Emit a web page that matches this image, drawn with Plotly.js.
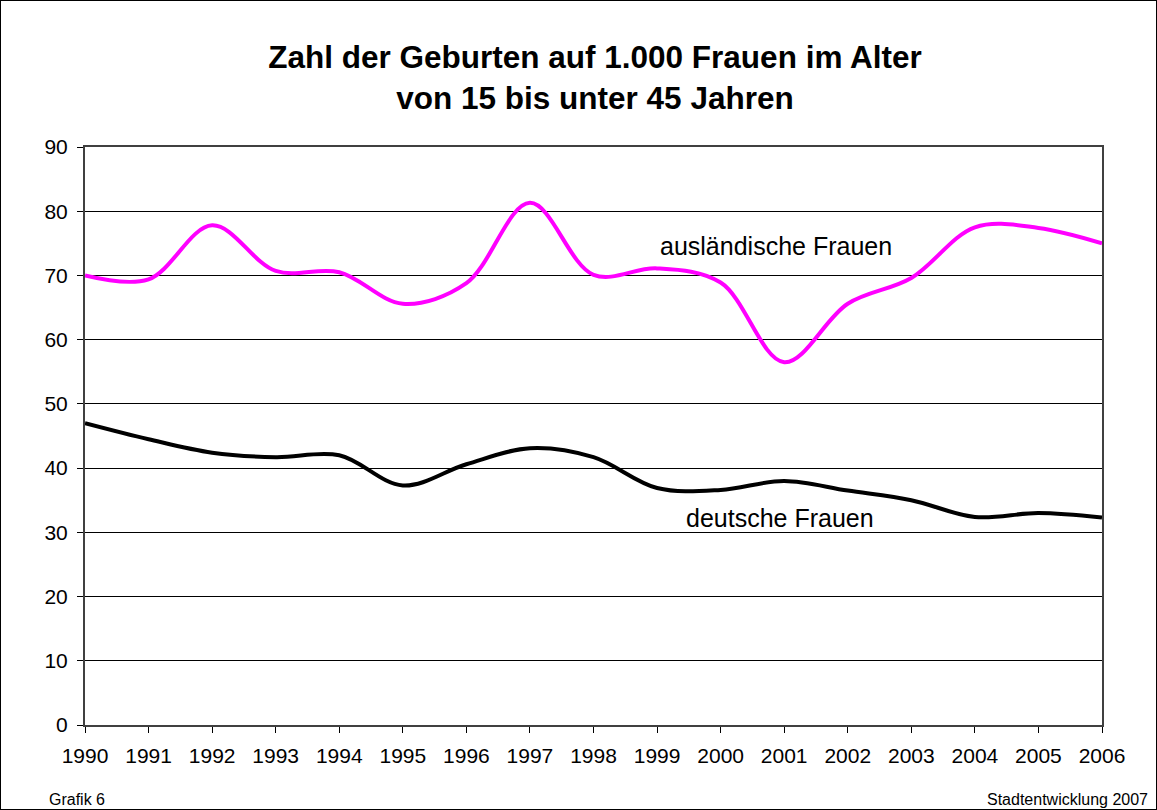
<!DOCTYPE html>
<html>
<head>
<meta charset="utf-8">
<script src="https://cdn.plot.ly/plotly-3.0.1.min.js"></script>
<style>
  html, body { margin: 0; padding: 0; background: #fff; }
  #wrap { position: relative; width: 1157px; height: 810px; }
  #chart { width: 1157px; height: 810px; }
  #frame { position: absolute; left: 0; top: 0; width: 1157px; height: 810px; box-sizing: border-box; border: 1px solid #000; pointer-events: none; }
</style>
</head>
<body>
<div id="wrap">
  <div id="chart"></div>
  <div id="frame"></div>
</div>
<script>
const years = [1990, 1991, 1992, 1993, 1994, 1995, 1996, 1997, 1998, 1999, 2000, 2001, 2002, 2003, 2004, 2005, 2006];
const auslaendisch = [70.0, 69.4, 77.8, 70.7, 70.5, 65.6, 68.8, 81.3, 70.1, 71.1, 68.9, 56.5, 65.6, 69.6, 77.5, 77.4, 75.0];
const deutsch = [47.0, 44.5, 42.4, 41.7, 42.0, 37.3, 40.6, 43.1, 41.7, 36.9, 36.6, 38.0, 36.5, 35.0, 32.4, 33.0, 32.3];
const yTicks = [0, 10, 20, 30, 40, 50, 60, 70, 80, 90];

const font = "Liberation Sans, Arial, sans-serif";

const traces = [
  { x: years, y: auslaendisch, type: 'scatter', mode: 'lines', name: 'ausländische Frauen',
    line: { color: '#FF00FF', width: 4, shape: 'spline', smoothing: 1 }, hoverinfo: 'x+y' },
  { x: years, y: deutsch, type: 'scatter', mode: 'lines', name: 'deutsche Frauen',
    line: { color: '#000000', width: 4, shape: 'spline', smoothing: 1 }, hoverinfo: 'x+y' }
];

const L = 85, R = 55, T = 147, B = 85, W = 1157, H = 810;
function px2paperX(px) { return (px - L) / (W - L - R); }
function px2paperY(py) { return (H - B - py) / (H - T - B); }

const layout = {
  width: W, height: H,
  margin: { l: L, r: R, t: T, b: B },
  paper_bgcolor: '#ffffff', plot_bgcolor: '#ffffff',
  showlegend: false,
  title: {
    text: '<b>Zahl der Geburten auf 1.000 Frauen im Alter<br>von 15 bis unter 45 Jahren</b>',
    font: { family: font, size: 31.5, color: '#000' },
    x: 595 / W, xanchor: 'center', y: 1 - 68 / H, yanchor: 'middle'
  },
  xaxis: {
    range: [1990, 2006], tickmode: 'array', tickvals: years, ticktext: years.map(String),
    ticks: 'outside', ticklen: 6, tickcolor: '#000', tickwidth: 1, ticklabelstandoff: 5,
    showgrid: false, zeroline: false,
    showline: true, linecolor: '#404040', linewidth: 2, mirror: true,
    tickfont: { family: font, size: 21, color: '#000' }
  },
  yaxis: {
    range: [0, 90], tickmode: 'array', tickvals: yTicks,
    ticks: 'outside', ticklen: 6, tickcolor: '#000', tickwidth: 1, ticklabelstandoff: 5,
    showgrid: true, gridcolor: '#000', gridwidth: 1, zeroline: false,
    showline: true, linecolor: '#404040', linewidth: 2, mirror: true,
    tickfont: { family: font, size: 21, color: '#000' }
  },
  annotations: [
    { text: 'ausländische Frauen', xref: 'paper', yref: 'paper', x: px2paperX(776), y: px2paperY(246), xanchor: 'center', yanchor: 'middle', showarrow: false, font: { family: font, size: 25, color: '#000' } },
    { text: 'deutsche Frauen', xref: 'paper', yref: 'paper', x: px2paperX(780), y: px2paperY(518), xanchor: 'center', yanchor: 'middle', showarrow: false, font: { family: font, size: 25, color: '#000' } },
    { text: 'Grafik 6', xref: 'paper', yref: 'paper', x: px2paperX(47), y: px2paperY(799), xanchor: 'left', yanchor: 'middle', showarrow: false, font: { family: font, size: 16, color: '#000' } },
    { text: 'Stadtentwicklung 2007', xref: 'paper', yref: 'paper', x: px2paperX(1150), y: px2paperY(800), xanchor: 'right', yanchor: 'middle', showarrow: false, font: { family: font, size: 16, color: '#000' } }
  ]
};

Plotly.newPlot('chart', traces, layout, { displayModeBar: false, staticPlot: true });
</script>
</body>
</html>
